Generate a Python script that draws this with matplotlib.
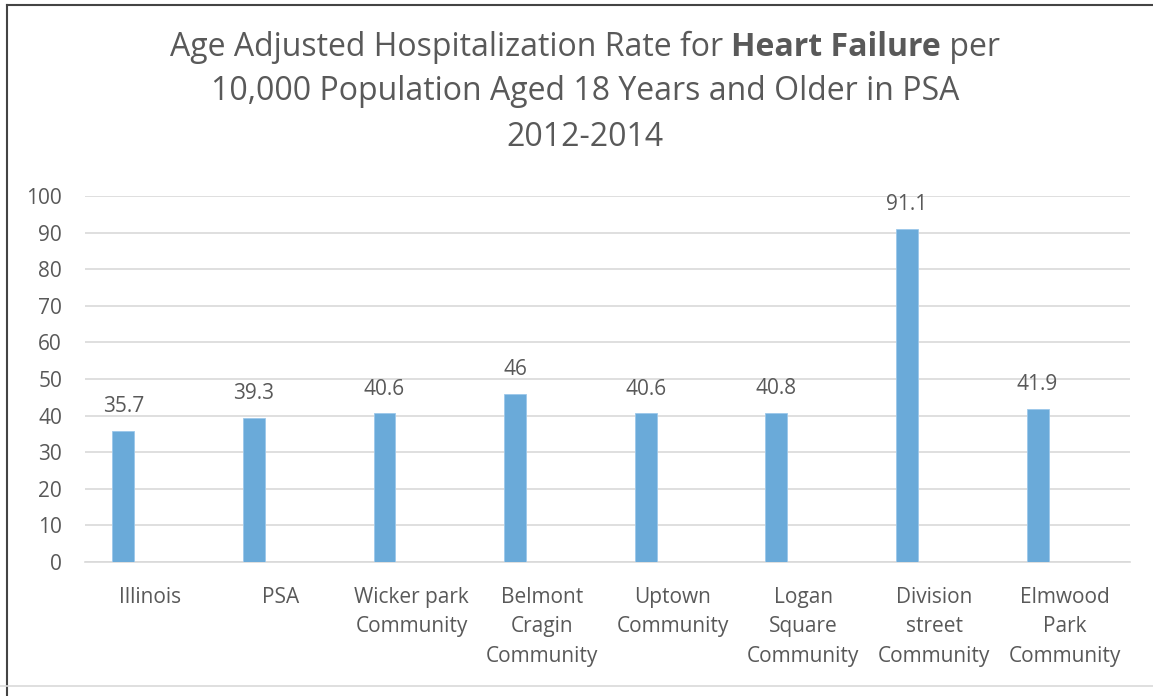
import matplotlib
matplotlib.use('Agg')
import matplotlib.pyplot as plt
from matplotlib.lines import Line2D
import numpy as np

plt.rcParams['font.family'] = ['Open Sans', 'DejaVu Sans']

categories = ['Illinois', 'PSA', 'Wicker park\nCommunity', 'Belmont\nCragin\nCommunity',
              'Uptown\nCommunity', 'Logan\nSquare\nCommunity', 'Division\nstreet\nCommunity',
              'Elmwood\nPark\nCommunity']
values = [35.7, 39.3, 40.6, 46, 40.6, 40.8, 91.1, 41.9]
value_labels = ['35.7', '39.3', '40.6', '46', '40.6', '40.8', '91.1', '41.9']

grey = '#595959'
fig = plt.figure(figsize=(11.53, 6.96), dpi=100)
ax = fig.add_axes([0.0737, 0.1925, 0.9063, 0.5259])

x = np.arange(len(categories))
bars = ax.bar(x - 0.207, values, width=0.168, color='#6aaad9', edgecolor='#9cc8ea', linewidth=0.6, zorder=3)
for b, lab in zip(bars, value_labels):
    ax.annotate(lab, (b.get_x() + b.get_width() / 2, b.get_height()), xytext=(0, 10),
                textcoords='offset points', ha='center', va='bottom', fontsize=15, color=grey)

ax.set_xlim(-0.5, len(categories) - 0.5)
ax.set_ylim(0, 100)
ax.set_yticks(np.arange(0, 101, 10))
ax.yaxis.grid(True, color='#d9d9d9', linewidth=1.2, zorder=0)
ax.set_xticks(x)
ax.set_xticklabels(categories, fontsize=15, color=grey, linespacing=1.52, va='top')
ax.tick_params(axis='x', length=0, pad=18)
ax.tick_params(axis='y', length=0, pad=16.5, labelsize=15, labelcolor=grey)
for lbl in ax.get_yticklabels():
    lbl.set_horizontalalignment('right')
for s in ['top', 'right', 'left']:
    ax.spines[s].set_visible(False)
ax.spines['bottom'].set_color('#d9d9d9')
ax.spines['bottom'].set_linewidth(1.2)

# title with bold segment
parts = [('Age Adjusted Hospitalization Rate for ', 'normal'), ('Heart Failure', 'bold'), (' per', 'normal')]
r = fig.canvas.get_renderer()
fs = 23
widths = []
for txt, w in parts:
    t = fig.text(0, 0, txt, fontsize=fs, fontweight=w)
    widths.append(t.get_window_extent(renderer=r).width)
    t.remove()
total = sum(widths)
cx = 585 / 1153
x0 = cx - total / 2 / 1153
for (txt, w), wd in zip(parts, widths):
    fig.text(x0, 1 - 47 / 696, txt, fontsize=fs, fontweight=w, color=grey, va='center', ha='left')
    x0 += wd / 1153
fig.text(cx, 1 - 92 / 696, '10,000 Population Aged 18 Years and Older in PSA', fontsize=fs,
         color=grey, ha='center', va='center')
fig.text(cx, 1 - 137 / 696, '2012-2014', fontsize=fs, color=grey, ha='center', va='center')

# frame
fig.add_artist(Line2D([7 / 1153, 7 / 1153], [0, 1 - 5 / 696], color='#444444', lw=1.5))
fig.add_artist(Line2D([7 / 1153, 1], [1 - 5 / 696, 1 - 5 / 696], color='#444444', lw=1.5))
fig.add_artist(Line2D([0, 1], [1 - 686 / 696, 1 - 686 / 696], color='#d9d9d9', lw=1.2))

fig.savefig('out.png', dpi=100)
